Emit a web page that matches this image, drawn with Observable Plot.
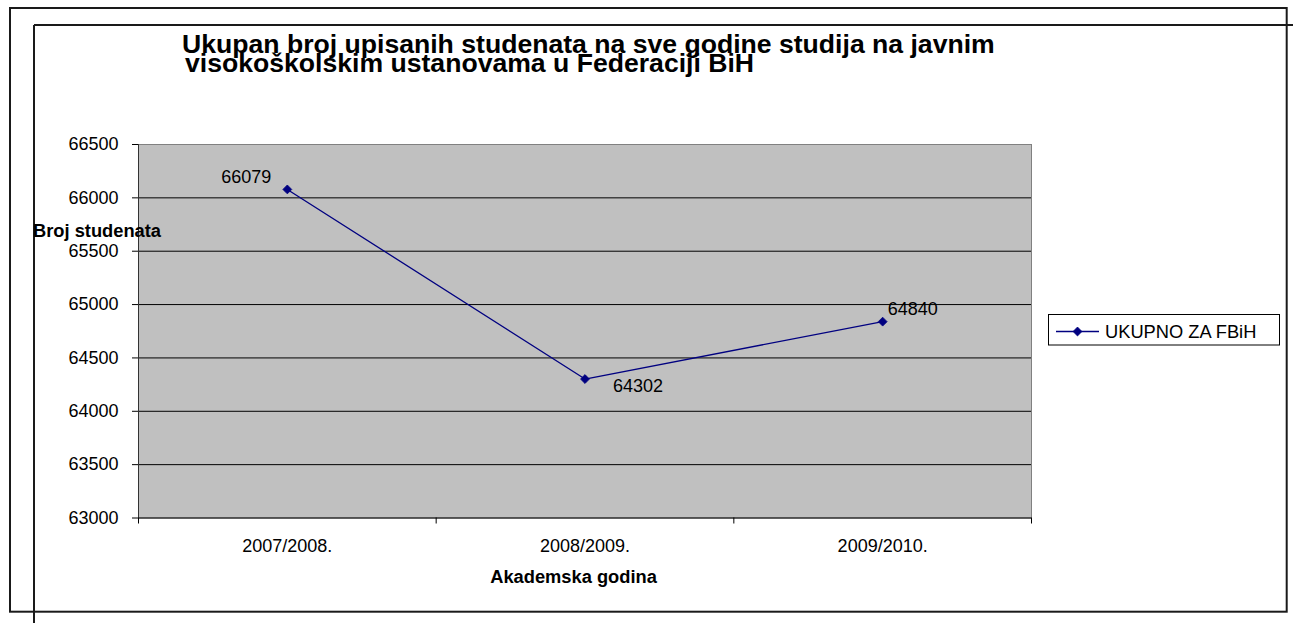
<!DOCTYPE html>
<html>
<head>
<meta charset="utf-8">
<script src="https://cdn.jsdelivr.net/npm/d3@7"></script>
<script src="https://cdn.jsdelivr.net/npm/@observablehq/plot@0.6"></script>
<style>
  html, body { margin: 0; padding: 0; background: #fff; }
  #chart { position: relative; width: 1293px; height: 623px; }
  #chart svg { font-family: "Liberation Sans", Arial, sans-serif; }
</style>
</head>
<body>
<div id="chart"></div>
<script>
// ---- data ----
const years = ["2007/2008.", "2008/2009.", "2009/2010."];
const students = [66079, 64302, 64840];
const seriesName = "UKUPNO ZA FBiH";
const yTicks = [63000, 63500, 64000, 64500, 65000, 65500, 66000, 66500];
const titleLines = [
  "Ukupan broj upisanih studenata na sve godine studija na javnim",
  "visokoškolskim ustanovama u Federaciji BiH"
];
const yLabel = "Broj studenata";
const xLabel = "Akademska godina";

const data = years.map((year, i) => ({ i, year, x: i + 0.5, value: students[i] }));
const navy = "#000080";
const font = "\"Liberation Sans\", Arial, sans-serif";

const labelMark = (idx, opts) =>
  Plot.text(data.filter(d => d.i === idx), {
    x: "x", y: "value", text: d => String(d.value),
    fontSize: 18, fill: "#000", lineAnchor: "bottom", ...opts
  });

const plot = Plot.plot({
  width: 1293,
  height: 623,
  marginLeft: 138,
  marginRight: 262,
  marginTop: 144,
  marginBottom: 105.5,
  style: { fontFamily: font, fontSize: "18px", color: "#000", background: "transparent", overflow: "visible" },
  x: { domain: [0, years.length] },
  y: { domain: [yTicks[0], yTicks[yTicks.length - 1]] },
  marks: [
    Plot.frame({ fill: "#c0c0c0", stroke: "#808080", strokeWidth: 1 }),
    Plot.ruleY(yTicks.slice(0, -1), { stroke: "#000", strokeWidth: 1 }),
    Plot.ruleX([0], { stroke: "#333", strokeWidth: 1 }),
    Plot.axisY({
      ticks: yTicks, tickSize: 6, tickPadding: 14, fontSize: 18,
      tickFormat: d => String(d), label: null, stroke: "#000"
    }),
    Plot.axisX({
      ticks: d3.range(years.length + 1), tickSize: 6, tickFormat: () => "",
      label: null, stroke: "#000"
    }),
    Plot.axisX({
      ticks: data.map(d => d.x), tickSize: 0, tickPadding: 21.5, fontSize: 18,
      tickFormat: v => years[Math.floor(v)], label: null
    }),
    Plot.line(data, { x: "x", y: "value", stroke: navy, strokeWidth: 1.3 }),
    Plot.dot(data, { x: "x", y: "value", symbol: "diamond2", r: 4, fill: navy, stroke: navy, strokeWidth: 0.8 }),
    labelMark(0, { textAnchor: "end", dx: -16, dy: -6 }),
    labelMark(1, { textAnchor: "start", dx: 28, dy: 13 }),
    labelMark(2, { textAnchor: "start", dx: 5, dy: -7 })
  ]
});

document.getElementById("chart").appendChild(plot);

// ---- decorations: frames, title, axis titles, legend ----
const svg = d3.select(plot);
const g = svg.append("g").attr("font-family", font).attr("text-anchor", "start");

// outer frame
g.append("rect").attr("x", 10).attr("y", 8).attr("width", 1276.7).attr("height", 603.7)
  .attr("fill", "none").attr("stroke", "#1a1a1a").attr("stroke-width", 2);
// inner frame lines
g.append("line").attr("x1", 34).attr("x2", 1293).attr("y1", 25).attr("y2", 25)
  .attr("stroke", "#1a1a1a").attr("stroke-width", 2);
g.append("line").attr("x1", 34).attr("x2", 34).attr("y1", 25).attr("y2", 623)
  .attr("stroke", "#1a1a1a").attr("stroke-width", 2);

// title
g.append("text").attr("x", 182).attr("y", 53).attr("font-size", 26.6).attr("font-weight", "bold")
  .attr("text-anchor", "start").text(titleLines[0]);
g.append("text").attr("x", 185).attr("y", 72).attr("font-size", 26.6).attr("font-weight", "bold")
  .attr("text-anchor", "start").text(titleLines[1]);

// axis titles
g.append("text").attr("x", 33).attr("y", 236.5).attr("font-size", 18.3).attr("font-weight", "bold")
  .attr("text-anchor", "start").text(yLabel);
g.append("text").attr("x", 573.5).attr("y", 583.3).attr("font-size", 18.3).attr("font-weight", "bold")
  .attr("text-anchor", "middle").text(xLabel);

// legend
const lg = g.append("g");
lg.append("rect").attr("x", 1048.5).attr("y", 314.5).attr("width", 231).attr("height", 30.5)
  .attr("fill", "#fff").attr("stroke", "#000").attr("stroke-width", 1);
lg.append("line").attr("x1", 1056).attr("x2", 1099).attr("y1", 331.5).attr("y2", 331.5)
  .attr("stroke", navy).attr("stroke-width", 1.3);
lg.append("path").attr("transform", "translate(1077.5,331.5)")
  .attr("d", d3.symbol(d3.symbolDiamond2, Math.PI * 16)())
  .attr("fill", navy).attr("stroke", navy).attr("stroke-width", 0.8);
lg.append("text").attr("x", 1105).attr("y", 337.5).attr("font-size", 18.3)
  .attr("text-anchor", "start").text(seriesName);
</script>
</body>
</html>
